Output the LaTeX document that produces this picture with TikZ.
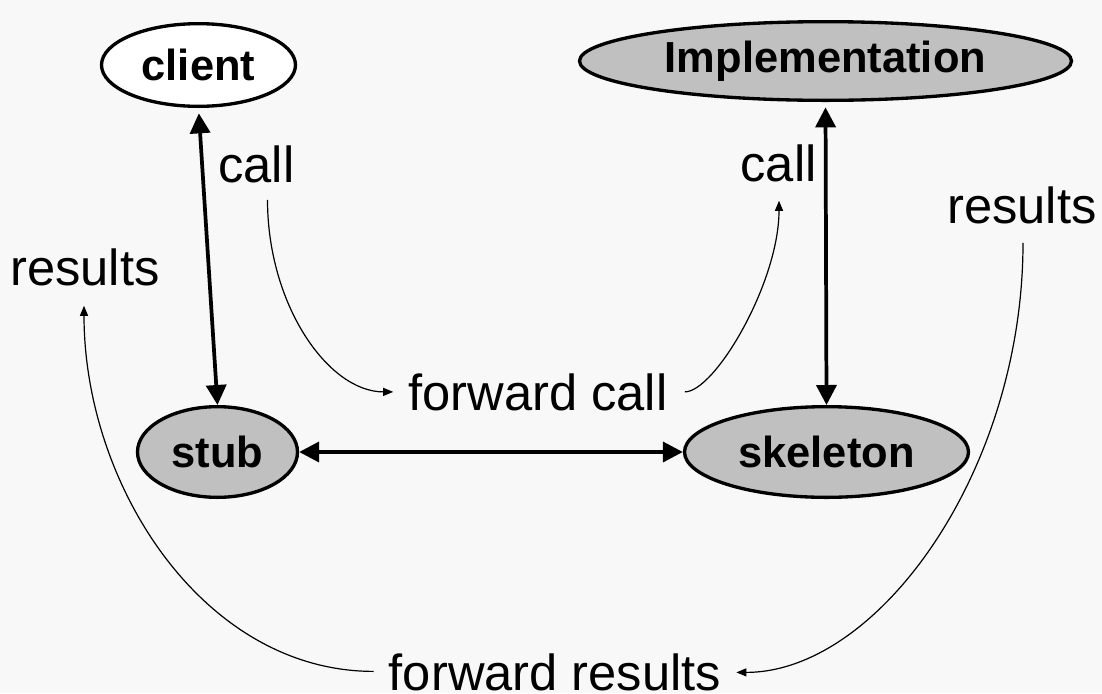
\documentclass[tikz,border=0pt]{standalone}
\usepackage{fontspec}
\setmainfont{Liberation Sans}
\usetikzlibrary{arrows.meta,shapes.geometric}
\definecolor{bg}{RGB}{248,248,248}
\definecolor{objgray}{RGB}{192,192,192}
\tikzset{
  obj/.style={ellipse, draw=black, line width=2.5pt, inner sep=0pt,
    font=\fontsize{32.6}{36}\selectfont\bfseries},
  lbl/.style={anchor=base, inner sep=0pt, font=\fontsize{38}{44}\selectfont},
  link/.style={line width=2.8pt,
    {Triangle[length=15pt,width=15pt]}-{Triangle[length=15pt,width=15pt]}},
  flow/.style={line width=0.9pt, -{Triangle[length=7.5pt,width=6pt]}},
}
\begin{document}
\begin{tikzpicture}[x=0.75pt,y=-0.75pt]
  \fill[bg] (0,0) rectangle (1102,693);
  \useasboundingbox (0,0) rectangle (1102,693);

  % objects
  \node[obj, fill=white, minimum width=145.5pt, minimum height=62pt] (client) at (198.5,65) {client};
  \node[obj, fill=objgray, minimum width=369pt, minimum height=59pt] (impl) at (825.5,61) {Implementation};
  \node[obj, fill=objgray, minimum width=120pt, minimum height=68pt] (stub) at (217.5,452) {stub};
  \node[obj, fill=objgray, minimum width=213pt, minimum height=68pt] (skel) at (826.5,452) {skeleton};

  % labels
  \node[lbl] (callL) at (256.5,182) {call};
  \node[lbl] (callR) at (778.5,181) {call};
  \node[lbl] (resL) at (85,285) {results};
  \node[lbl] (resR) at (1022,223) {results};
  \node[lbl] (fwdcall) at (538,410) {forward call};
  \node[lbl] (fwdres) at (555,690) {forward results};

  % thick two-way connections
  \draw[link, shorten <=4pt] (client.south) -- (stub.north);
  \draw[link, shorten <=4pt] (impl.south) -- (skel.north);
  \draw[link] (stub.east) -- (skel.west);

  % thin flow curves
  \draw[flow] ([shift={(11,17)}]callL.south) .. controls +(0,105) and +(-65,0) .. ([shift={(-15,0)}]fwdcall.west);
  \draw[flow] ([shift={(17,0)}]fwdcall.east) .. controls +(30,0) and +(0,82) .. ([shift={(0.5,19)}]callR.south);
  \draw[flow] ([shift={(1,19)}]resR.south) .. controls +(0,228) and +(142,0) .. ([shift={(15,0.5)}]fwdres.east);
  \draw[flow] ([shift={(-15,-0.5)}]fwdres.west) .. controls +(-170,0) and +(0,180) .. ([shift={(-1,20)}]resL.south);
\end{tikzpicture}
\end{document}
